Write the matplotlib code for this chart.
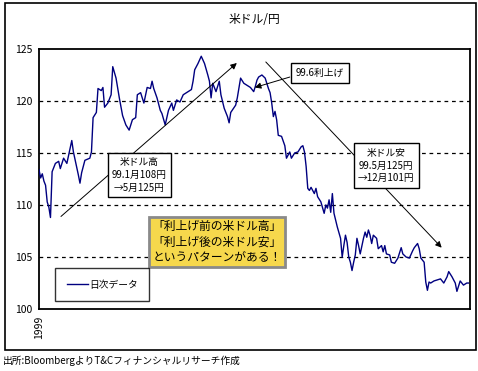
import matplotlib
matplotlib.use("Agg")
import matplotlib.pyplot as plt
from matplotlib.patches import Rectangle

plt.rcParams['font.family'] = ['Noto Sans CJK JP', 'DejaVu Sans']

# daily USD/JPY 1999 (trading day index, rate)
days = [0, 1, 2, 3, 4, 5, 6, 7, 8, 10, 12, 13, 15, 17, 20, 21, 24, 25, 26, 28,
        31, 32, 33, 35, 36, 38, 39, 40, 42, 44, 45, 47, 49, 51, 53, 55, 57, 59, 60, 62,
        64, 66, 68, 69, 70, 72, 74, 75, 77, 79, 81, 82, 84, 86, 88, 90, 92, 93, 94, 95,
        97, 99, 101, 103, 104, 105, 106, 108, 110, 111, 113, 115, 116, 117, 120, 121, 123, 125, 127, 129,
        131, 132, 133, 134, 136, 138, 140, 141, 142, 143, 144, 145, 146, 148, 150, 151, 153, 154, 156, 158,
        160, 161, 162, 163, 164, 165, 166, 168, 169, 170, 172, 174, 175, 176, 177, 178, 179, 180, 182, 184,
        185, 186, 187, 188, 189, 190, 191, 192, 193, 194, 195, 196, 198, 199, 200, 201, 202, 203, 204, 206,
        207, 209, 210, 211, 212, 214, 215, 217, 219, 221, 222, 224, 226, 228, 229, 231, 232, 233, 235, 236,
        237, 238, 239, 241, 245, 247, 249, 250, 252, 254, 255, 257, 258, 259, 261, 262]
rate = [113.4, 112.6, 113.0, 112.3, 111.9, 110.3, 109.8, 108.8, 113.2, 114.0, 114.2, 113.5, 114.5, 114.0, 116.2, 115.1, 112.9, 112.1, 113.1, 114.3,
        114.5, 115.1, 118.4, 118.9, 121.2, 121.0, 121.3, 119.4, 119.8, 120.6, 123.3, 122.2, 120.3, 118.6, 117.7, 117.2, 118.2, 118.4, 120.6, 120.8,
        119.8, 121.3, 121.2, 121.9, 121.2, 120.3, 119.1, 118.8, 117.7, 119.1, 119.8, 119.1, 120.1, 119.9, 120.6, 120.8, 121.0, 121.1, 121.9, 123.0,
        123.6, 124.3, 123.6, 122.5, 121.9, 120.3, 121.7, 120.9, 121.9, 120.6, 119.3, 118.5, 117.9, 118.9, 119.6, 120.3, 122.2, 121.7, 121.5, 121.3,
        120.9, 121.4, 122.0, 122.3, 122.5, 122.2, 121.2, 120.8, 119.8, 118.5, 119.0, 118.2, 116.7, 116.6, 115.7, 114.5, 115.1, 114.5, 115.0, 115.1,
        115.6, 115.7, 115.1, 113.7, 111.6, 111.4, 111.7, 111.1, 111.6, 110.8, 110.3, 109.2, 110.0, 109.7, 110.5, 109.3, 111.1, 109.2, 107.9, 106.8,
        105.0, 106.1, 107.1, 106.4, 105.0, 104.5, 103.7, 104.5, 105.2, 106.8, 106.1, 105.3, 106.8, 107.4, 106.9, 107.6, 107.1, 106.3, 107.1, 106.8,
        105.8, 106.1, 105.5, 106.1, 105.3, 105.2, 104.5, 104.4, 104.9, 105.9, 105.3, 105.0, 104.9, 105.6, 105.9, 106.3, 105.8, 104.9, 104.5, 102.6,
        101.8, 102.6, 102.5, 102.7, 102.9, 102.5, 103.1, 103.6, 103.1, 102.5, 101.7, 102.7, 102.5, 102.3, 102.5, 102.5]

yticks = [100, 105, 110, 115, 120, 125]
grid_levels = [105, 110, 115, 120]

fig = plt.figure(figsize=(4.78, 3.71), dpi=100)
fig.patches.append(Rectangle((0.0105, 0.0566), 0.985, 0.935, transform=fig.transFigure,
                             fill=False, edgecolor='black', lw=1.2))
ax = fig.add_axes([0.0816, 0.167, 0.9017, 0.701])

for g in grid_levels:
    ax.axhline(g, color='black', lw=0.9, linestyle=(0, (3, 3)), zorder=1)

ax.plot(days, rate, color='#000080', lw=1.0, label='日次データ', zorder=3)

ax.set_xlim(0, 263)
ax.set_ylim(100, 125)
ax.set_yticks(yticks)
ax.set_yticklabels([str(v) for v in yticks], fontsize=7.5)
ax.set_xticks([0])
ax.set_xticklabels(['1999'], rotation=90, fontsize=7.5)
ax.tick_params(length=0, pad=5)
for s in ax.spines.values():
    s.set_linewidth(1.3)

ax.set_title('米ドル/円', fontsize=8.5, pad=19)

arrow = dict(arrowstyle='-|>', mutation_scale=9, lw=0.7, color='black', shrinkA=0, shrinkB=0)
ax.annotate('', xy=(120.7, 123.65), xytext=(13.4, 108.9), arrowprops=arrow, zorder=4)
ax.annotate('', xy=(245.7, 105.9), xytext=(138.4, 123.75), arrowprops=arrow, zorder=4)
ax.annotate('', xy=(131.7, 121.3), xytext=(153, 122.3), arrowprops=arrow, zorder=4)

box = dict(boxstyle='square,pad=0.45', fc='white', ec='black', lw=1.0)
ax.text(61.3, 112.9, '米ドル高\n99.1月108円\n→5月125円', ha='center', va='center',
        fontsize=7, linespacing=1.35, bbox=box, zorder=5)
ax.text(211.9, 113.8, '米ドル安\n99.5月125円\n→12月101円', ha='center', va='center',
        fontsize=7, linespacing=1.35, bbox=box, zorder=5)
ax.text(171.6, 122.7, '99.6利上げ', ha='center', va='center',
        fontsize=7, bbox=dict(boxstyle='square,pad=0.5', fc='white', ec='black', lw=1.0), zorder=5)

ax.text(0.413, 0.258, '「利上げ前の米ドル高」\n「利上げ後の米ドル安」\nというパターンがある！',
        transform=ax.transAxes, ha='center', va='center', multialignment='left',
        fontsize=8.5, linespacing=1.2,
        bbox=dict(boxstyle='square,pad=0.3', fc='#F6D84C', ec='#8a8a8a', lw=2), zorder=5)

ax.legend(loc='lower left', bbox_to_anchor=(0.037, 0.03), fontsize=7, frameon=True,
          fancybox=False, edgecolor='black', handlelength=2.2, borderpad=1.2,
          handletextpad=0.1, borderaxespad=0).get_frame().set_linewidth(1.0)

fig.text(0.005, 0.028, '出所:BloombergよりT&Cフィナンシャルリサーチ作成', fontsize=7, va='center')

fig.savefig('out.png', dpi=100)
